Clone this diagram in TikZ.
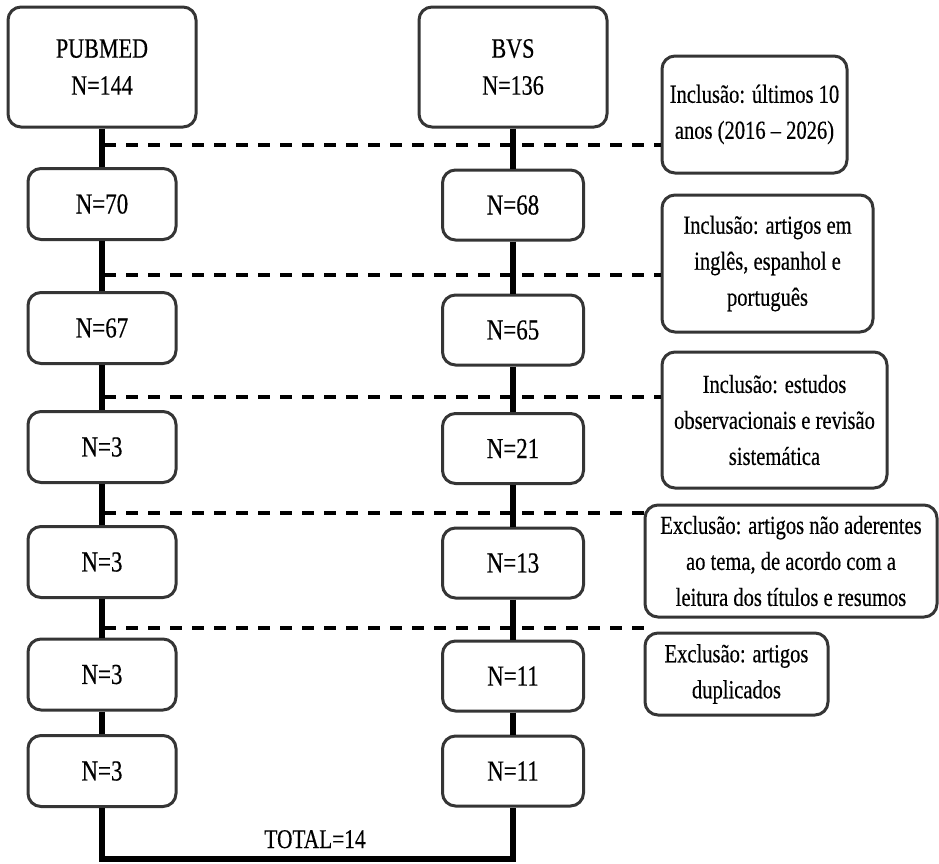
\documentclass[tikz,border=0pt]{standalone}
\usepackage{fontspec}
\setmainfont{Liberation Serif}[FakeStretch=0.79,FakeBold=0.4]
\definecolor{boxgray}{HTML}{353535}
\begin{document}
\begin{tikzpicture}[x=1pt,y=-1pt,
  box/.style={draw=boxgray, line width=3pt, rounded corners=13pt, fill=white, inner sep=0pt, align=center, font=\fontsize{29}{36}\selectfont},
  topbox/.style={box, minimum width=188pt, minimum height=120pt, font=\fontsize{28}{37}\selectfont},
  lbox/.style={box, minimum width=148pt, minimum height=71pt},
  rbox/.style={box, minimum width=141pt, minimum height=70pt},
  sidebox/.style={box, font=\fontsize{26}{36}\selectfont},
  flow/.style={line width=6pt, black},
  dashline/.style={line width=4pt, black, dash pattern=on 12pt off 10pt}
]
\useasboundingbox (0,0) rectangle (939,863);
\fill[white] (0,0) rectangle (939,863);

% left column
\node[topbox] (pub) at (102,67) {PUBMED\\N=144};
\node[lbox] (l1) at (102,204) {N=70};
\node[lbox] (l2) at (102,328) {N=67};
\node[lbox] (l3) at (102,447) {N=3};
\node[lbox] (l4) at (102,562) {N=3};
\node[lbox] (l5) at (102,674.5) {N=3};
\node[lbox] (l6) at (102,771) {N=3};

% right column
\node[topbox] (bvs) at (513,67) {BVS\\N=136};
\node[rbox] (r1) at (513,205) {N=68};
\node[rbox] (r2) at (513,330) {N=65};
\node[rbox] (r3) at (513,448.5) {N=21};
\node[rbox] (r4) at (513,563) {N=13};
\node[rbox] (r5) at (513,676) {N=11};
\node[rbox] (r6) at (513,771) {N=11};

% side boxes
\node[sidebox, minimum width=185pt, minimum height=117pt] (s1) at (754.5,114.5) {Inclusão: últimos 10\\anos (2016 – 2026)};
\node[sidebox, minimum width=211pt, minimum height=137pt] (s2) at (767.5,263.5) {Inclusão: artigos em\\inglês, espanhol e\\português};
\node[sidebox, minimum width=225pt, minimum height=136pt] (s3) at (774.5,420) {Inclusão: estudos\\observacionais e revisão\\sistemática};
\node[sidebox, minimum width=292pt, minimum height=112pt] (s4) at (791,561) {Exclusão: artigos não aderentes\\ao tema, de acordo com a\\leitura dos títulos e resumos};
\node[sidebox, minimum width=183pt, minimum height=82pt] (s5) at (736.5,674) {Exclusão: artigos\\duplicados};

% solid flow lines
\draw[flow] (pub.south) -- (l1.north);
\draw[flow] (l1.south) -- (l2.north);
\draw[flow] (l2.south) -- (l3.north);
\draw[flow] (l3.south) -- (l4.north);
\draw[flow] (l4.south) -- (l5.north);
\draw[flow] (l5.south) -- (l6.north);
\draw[flow] (bvs.south) -- (r1.north);
\draw[flow] (r1.south) -- (r2.north);
\draw[flow] (r2.south) -- (r3.north);
\draw[flow] (r3.south) -- (r4.north);
\draw[flow] (r4.south) -- (r5.north);
\draw[flow] (r5.south) -- (r6.north);

\coordinate (bl) at (102,859);
\coordinate (br) at (513,859);
\draw[flow] (l6.south) -- (bl) -- (br) -- (r6.south);
\node[anchor=base, font=\fontsize{27}{32}\selectfont] (total) at (315,848) {TOTAL=14};

% dashed lines
\coordinate (d1) at (104,145);
\coordinate (d2) at (104,275);
\coordinate (d3) at (104,397);
\coordinate (d4) at (104,513);
\coordinate (d5) at (104,628);
\coordinate (e5) at (648,628);
\draw[dashline] (d1) -- (s1.west |- d1);
\draw[dashline] (d2) -- (s2.west |- d2);
\draw[dashline] (d3) -- (s3.west |- d3);
\draw[dashline] (d4) -- (s4.west |- d4);
\draw[dashline] (d5) -- (e5);
\end{tikzpicture}
\end{document}
